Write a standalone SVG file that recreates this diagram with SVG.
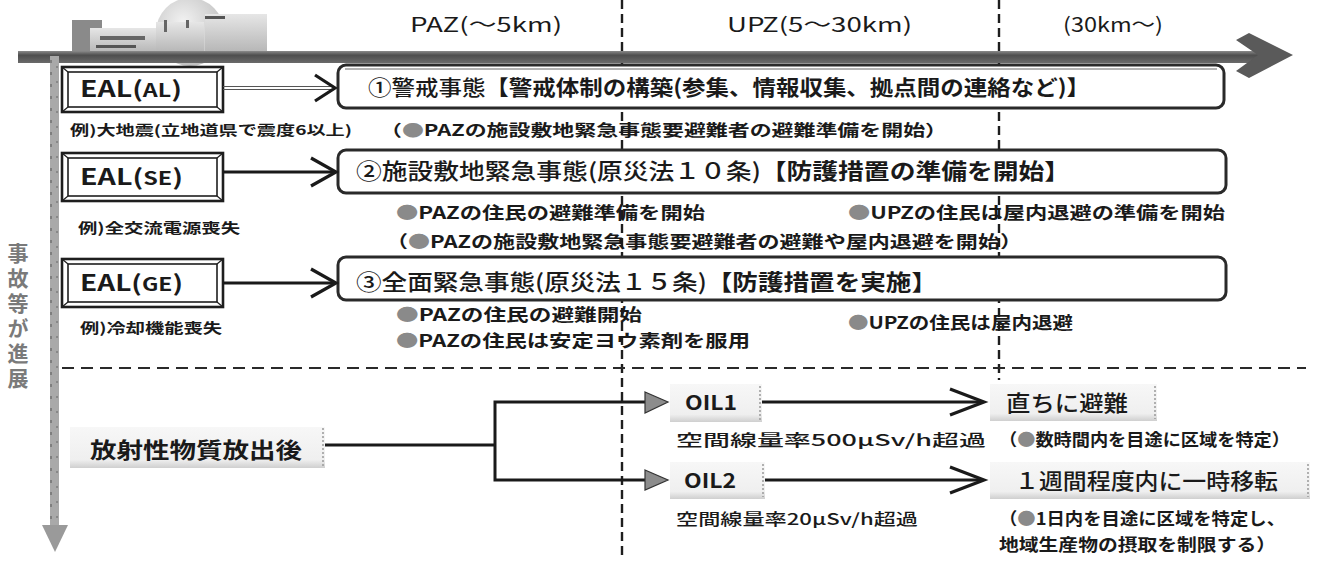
<svg xmlns="http://www.w3.org/2000/svg" width="1318" height="562" viewBox="0 0 1318 562">
  <defs>
    <style>
      .jp { font-family: "Noto Sans CJK JP", "Noto Sans", sans-serif; fill: #1a1a1a; }
      .b { font-weight: 700; }
      .m { font-weight: 500; }
      .dot { fill: #8a8a8a; }
      .dash-v { stroke: #1e1e1e; stroke-width: 2.4; stroke-dasharray: 9 5; fill: none; }
      .dash-h { stroke: #2a2a2a; stroke-width: 2; stroke-dasharray: 12 7; fill: none; }
      .wire { stroke: #1a1a1a; stroke-width: 3; fill: none; }
      .chev { stroke: #1a1a1a; stroke-width: 3.2; fill: none; stroke-linejoin: miter; }
      .eal-out { fill: #ffffff; stroke: #1e1e1e; stroke-width: 2.6; }
      .eal-in { fill: none; stroke: #1e1e1e; stroke-width: 1.6; }
      .bevel { stroke: #1e1e1e; stroke-width: 1.2; }
      .ev { fill: #ffffff; stroke: #2a2a2a; stroke-width: 3; }
      .soft { fill: url(#softFill); }
      .soft-edge { stroke: #999; stroke-width: 1.5; stroke-dasharray: 2 2; fill: none; }
      .tri { fill: #8c8c8c; stroke: #333; stroke-width: 1.2; }
    </style>
    <linearGradient id="softFill" x1="0" y1="0" x2="0" y2="1">
      <stop offset="0" stop-color="#f7f7f7"/>
      <stop offset="0.8" stop-color="#efefef"/>
      <stop offset="1" stop-color="#cfcfcf"/>
    </linearGradient>
    <linearGradient id="barFill" x1="0" y1="0" x2="0" y2="1">
      <stop offset="0" stop-color="#8a8a8a"/>
      <stop offset="0.35" stop-color="#4e4e4e"/>
      <stop offset="1" stop-color="#6a6a6a"/>
    </linearGradient>
    <linearGradient id="plantFill" x1="0" y1="0" x2="0" y2="1">
      <stop offset="0" stop-color="#e6e6e6"/>
      <stop offset="1" stop-color="#b5b5b5"/>
    </linearGradient>
    <radialGradient id="domeFill" cx="0.4" cy="0.35" r="0.7">
      <stop offset="0" stop-color="#f2f2f2"/>
      <stop offset="1" stop-color="#bdbdbd"/>
    </radialGradient>
  </defs>

  <rect width="1318" height="562" fill="#ffffff"/>

  <!-- power plant illustration -->
  <g id="plant">
    <circle cx="190" cy="32" r="34" fill="url(#domeFill)"/>
    <rect x="72" y="20" width="30" height="32" fill="#8a8a8a"/>
    <rect x="90" y="28" width="66" height="25" fill="url(#plantFill)"/>
    <rect x="100" y="36" width="45" height="4" fill="#666"/>
    <rect x="96" y="45" width="40" height="3" fill="#555"/>
    <rect x="156" y="22" width="48" height="31" fill="url(#plantFill)"/>
    <rect x="205" y="14" width="62" height="39" fill="url(#plantFill)"/>
    <rect x="205" y="16" width="20" height="3" fill="#555"/>
    <rect x="164" y="20" width="3" height="12" fill="#666"/>
    <rect x="186" y="20" width="3" height="8" fill="#666"/>
  </g>

  <!-- zone dividers -->
  <g id="dividers">
    <line class="dash-v" x1="622" y1="0" x2="622" y2="560"/>
    <line class="dash-v" x1="999" y1="0" x2="999" y2="380"/>
    <line class="dash-h" x1="62" y1="368" x2="1306" y2="368"/>
  </g>

  <!-- distance axis -->
  <g id="distance-axis">
    <rect x="18" y="51" width="1240" height="12" fill="url(#barFill)"/>
    <polygon points="1236,40 1249,33 1293,55 1249,78 1236,71 1258,55" fill="#5a5a5a"/>
  </g>

  <!-- progression axis -->
  <g id="progress-axis">
    <rect x="50" y="56" width="9" height="470" fill="#a9a9a9"/>
    <line x1="51" y1="60" x2="51" y2="524" stroke="#555" stroke-width="1" stroke-dasharray="3 9"/>
    <line x1="57" y1="66" x2="57" y2="520" stroke="#666" stroke-width="1" stroke-dasharray="2 13"/>
    <polygon points="42,525 68,525 55,552" fill="#9a9a9a"/>
    <text class="jp b" font-size="21" x="18" y="243" style="fill:#7a7a7a; writing-mode: vertical-rl; letter-spacing: 4px">事故等が進展</text>
  </g>

  <!-- zone headers -->
  <g id="headers">
    <text class="jp" font-size="20" x="410" y="32" textLength="152" lengthAdjust="spacingAndGlyphs">PAZ(～5km)</text>
    <text class="jp" font-size="20" x="727" y="32" textLength="185" lengthAdjust="spacingAndGlyphs">UPZ(5～30km)</text>
    <text class="jp" font-size="20" x="1063" y="32" textLength="100" lengthAdjust="spacingAndGlyphs">(30km～)</text>
  </g>

  <!-- EAL trigger boxes -->
  <g id="eal-al">
    <rect class="eal-out" x="62" y="67" width="161" height="45"/>
    <rect class="eal-in" x="68" y="72" width="149" height="35"/>
    <path class="bevel" d="M62,67 L68,72 M223,67 L217,72 M62,112 L68,107 M223,112 L217,107"/>
    <text class="jp b" font-size="22" x="80" y="97" textLength="102" lengthAdjust="spacingAndGlyphs">EAL(<tspan font-size="18">AL</tspan>)</text>
  </g>
  <g id="eal-se">
    <rect class="eal-out" x="62" y="153" width="161" height="48"/>
    <rect class="eal-in" x="68" y="158" width="149" height="38"/>
    <path class="bevel" d="M62,153 L68,158 M223,153 L217,158 M62,201 L68,196 M223,201 L217,196"/>
    <text class="jp b" font-size="22" x="80" y="185" textLength="103" lengthAdjust="spacingAndGlyphs">EAL(<tspan font-size="18">SE</tspan>)</text>
  </g>
  <g id="eal-ge">
    <rect class="eal-out" x="62" y="259" width="161" height="48"/>
    <rect class="eal-in" x="68" y="264" width="149" height="38"/>
    <path class="bevel" d="M62,259 L68,264 M223,259 L217,264 M62,307 L68,302 M223,307 L217,302"/>
    <text class="jp b" font-size="22" x="80" y="291" textLength="103" lengthAdjust="spacingAndGlyphs">EAL(<tspan font-size="18">GE</tspan>)</text>
  </g>

  <!-- examples under each EAL -->
  <g id="examples">
    <text class="jp b" font-size="13.5" x="70" y="135" textLength="282" lengthAdjust="spacingAndGlyphs">例)大地震(立地道県で震度6以上)</text>
    <text class="jp b" font-size="14" x="78" y="233" textLength="162" lengthAdjust="spacingAndGlyphs">例)全交流電源喪失</text>
    <text class="jp b" font-size="14" x="80" y="333" textLength="142" lengthAdjust="spacingAndGlyphs">例)冷却機能喪失</text>
  </g>

  <!-- emergency stage boxes -->
  <g id="stage-1">
    <rect class="ev" x="338" y="65" width="886" height="43" rx="8" stroke="#444"/>
    <line x1="345" y1="69" x2="1217" y2="69" stroke="#9a9a9a" stroke-width="1.5"/>
    <text class="jp" font-size="21" x="368" y="95" textLength="722" lengthAdjust="spacingAndGlyphs"><tspan class="m">①警戒事態</tspan><tspan class="b">【警戒体制の構築(参集、情報収集、拠点間の連絡など)】</tspan></text>
  </g>
  <g id="stage-1-note">
    <text class="jp b" font-size="16" x="380" y="136" textLength="567" lengthAdjust="spacingAndGlyphs">（<tspan class="dot">●</tspan>PAZの施設敷地緊急事態要避難者の避難準備を開始）</text>
  </g>

  <g id="stage-2">
    <rect class="ev" x="338" y="150" width="888" height="43" rx="8"/>
    <text class="jp" font-size="22" x="356" y="179" textLength="714" lengthAdjust="spacingAndGlyphs"><tspan class="m">②施設敷地緊急事態(原災法１０条)</tspan><tspan class="b">【防護措置の準備を開始】</tspan></text>
  </g>
  <g id="stage-2-notes">
    <text class="jp b" font-size="17" x="396" y="219" textLength="309" lengthAdjust="spacingAndGlyphs"><tspan class="dot">●</tspan>PAZの住民の避難準備を開始</text>
    <text class="jp b" font-size="17" x="848" y="219" textLength="377" lengthAdjust="spacingAndGlyphs"><tspan class="dot">●</tspan>UPZの住民は屋内退避の準備を開始</text>
    <text class="jp b" font-size="17" x="386" y="248" textLength="636" lengthAdjust="spacingAndGlyphs">（<tspan class="dot">●</tspan>PAZの施設敷地緊急事態要避難者の避難や屋内退避を開始）</text>
  </g>

  <g id="stage-3">
    <rect class="ev" x="338" y="257" width="888" height="43" rx="8"/>
    <text class="jp" font-size="22" x="356" y="290" textLength="581" lengthAdjust="spacingAndGlyphs"><tspan class="m">③全面緊急事態(原災法１５条)</tspan><tspan class="b">【防護措置を実施】</tspan></text>
  </g>
  <g id="stage-3-notes">
    <text class="jp b" font-size="17" x="396" y="321" textLength="246" lengthAdjust="spacingAndGlyphs"><tspan class="dot">●</tspan>PAZの住民の避難開始</text>
    <text class="jp b" font-size="17" x="396" y="347" textLength="354" lengthAdjust="spacingAndGlyphs"><tspan class="dot">●</tspan>PAZの住民は安定ヨウ素剤を服用</text>
    <text class="jp b" font-size="17" x="848" y="329" textLength="225" lengthAdjust="spacingAndGlyphs"><tspan class="dot">●</tspan>UPZの住民は屋内退避</text>
  </g>

  <!-- after release -->
  <g id="release">
    <rect class="soft" x="70" y="427" width="255" height="41"/>
    <line class="soft-edge" x1="323" y1="428" x2="323" y2="466"/>
    <text class="jp b" font-size="22" x="90" y="458" textLength="212" lengthAdjust="spacingAndGlyphs">放射性物質放出後</text>
  </g>
  <g id="oil1">
    <rect class="soft" x="670" y="384" width="92" height="38"/>
    <line class="soft-edge" x1="760" y1="386" x2="760" y2="420"/>
    <text class="jp b" font-size="20" x="685" y="410" textLength="52" lengthAdjust="spacingAndGlyphs">OIL1</text>
    <text class="jp m" font-size="16" x="676" y="446" textLength="310" lengthAdjust="spacingAndGlyphs">空間線量率500μSv/h超過</text>
  </g>
  <g id="oil2">
    <rect class="soft" x="670" y="462" width="95" height="37"/>
    <line class="soft-edge" x1="763" y1="464" x2="763" y2="497"/>
    <text class="jp b" font-size="20" x="684" y="488" textLength="52" lengthAdjust="spacingAndGlyphs">OIL2</text>
    <text class="jp m" font-size="16" x="676" y="525" textLength="242" lengthAdjust="spacingAndGlyphs">空間線量率20μSv/h超過</text>
  </g>
  <g id="evacuate">
    <rect class="soft" x="990" y="384" width="167" height="37"/>
    <line class="soft-edge" x1="1155" y1="386" x2="1155" y2="419"/>
    <text class="jp m" font-size="22" x="1006" y="411" textLength="122" lengthAdjust="spacingAndGlyphs">直ちに避難</text>
    <text class="jp b" font-size="17" x="999" y="446" textLength="291" lengthAdjust="spacingAndGlyphs">（<tspan class="dot">●</tspan>数時間内を目途に区域を特定）</text>
  </g>
  <g id="relocate">
    <rect class="soft" x="990" y="462" width="320" height="37"/>
    <line class="soft-edge" x1="1308" y1="464" x2="1308" y2="497"/>
    <text class="jp m" font-size="22" x="1015" y="489" textLength="263" lengthAdjust="spacingAndGlyphs">１週間程度内に一時移転</text>
    <text class="jp b" font-size="17" x="999" y="525" textLength="286" lengthAdjust="spacingAndGlyphs">（<tspan class="dot">●</tspan>1日内を目途に区域を特定し、</text>
    <text class="jp b" font-size="17" x="999" y="551" textLength="277" lengthAdjust="spacingAndGlyphs">地域生産物の摂取を制限する）</text>
  </g>

  <!-- connectors -->
  <g id="connectors">
    <line x1="223" y1="86.5" x2="333" y2="86.5" stroke="#555" stroke-width="1.2"/>
    <line x1="223" y1="89.5" x2="333" y2="89.5" stroke="#555" stroke-width="1.2"/>
    <polyline class="chev" points="315,75 335,88 315,101"/>

    <line class="wire" x1="223" y1="172" x2="334" y2="172"/>
    <polyline class="chev" points="311,158 336,172 311,186"/>

    <line class="wire" x1="223" y1="283" x2="334" y2="283"/>
    <polyline class="chev" points="311,269 336,283 311,297"/>

    <polyline class="wire" points="325,445 495,445"/>
    <polyline class="wire" points="648,402 495,402 495,480 648,480"/>
    <polygon class="tri" points="645,392 668,402 645,413"/>
    <polygon class="tri" points="645,470 668,480 645,490"/>

    <line class="wire" x1="762" y1="402" x2="982" y2="402"/>
    <polyline class="chev" points="950,389 984,402 950,415"/>
    <line class="wire" x1="765" y1="480" x2="982" y2="480"/>
    <polyline class="chev" points="950,467 984,480 950,493"/>
  </g>
</svg>
